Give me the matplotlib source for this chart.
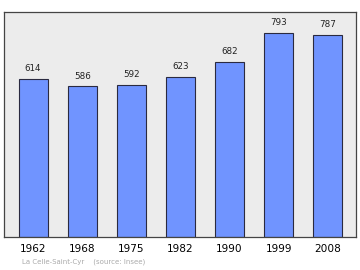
import matplotlib.pyplot as plt

years = ["1962", "1968", "1975", "1982", "1990", "1999", "2008"]
population = [614, 586, 592, 623, 682, 793, 787]

fig = plt.figure(figsize=(3.6, 2.7), dpi=100)
ax = fig.add_axes([4 / 360, 33 / 270, 352 / 360, 225 / 270])
ax.set_facecolor("#ececec")

pos = list(range(len(years)))
ax.bar(pos, population, width=0.59, color="#7094ff", edgecolor="#2a2a40", linewidth=0.8)
for x, v in zip(pos, population):
    ax.text(x, v + 22, str(v), ha="center", va="bottom", fontsize=6.3, color="#222222")

ax.set_xlim(-0.59, 6.57)
ax.set_ylim(0, 875)
ax.set_yticks([])
ax.set_xticks(pos)
ax.set_xticklabels(years, fontsize=7.6)
ax.tick_params(axis="x", length=0, pad=5)
for s in ax.spines.values():
    s.set_color("#444444")
    s.set_linewidth(0.9)

fig.text(22 / 360, 1 - 262 / 270, "La Celle-Saint-Cyr    (source: Insee)",
         fontsize=5, color="#aaaaaa", va="center")

fig.savefig("out.png", dpi=100)
